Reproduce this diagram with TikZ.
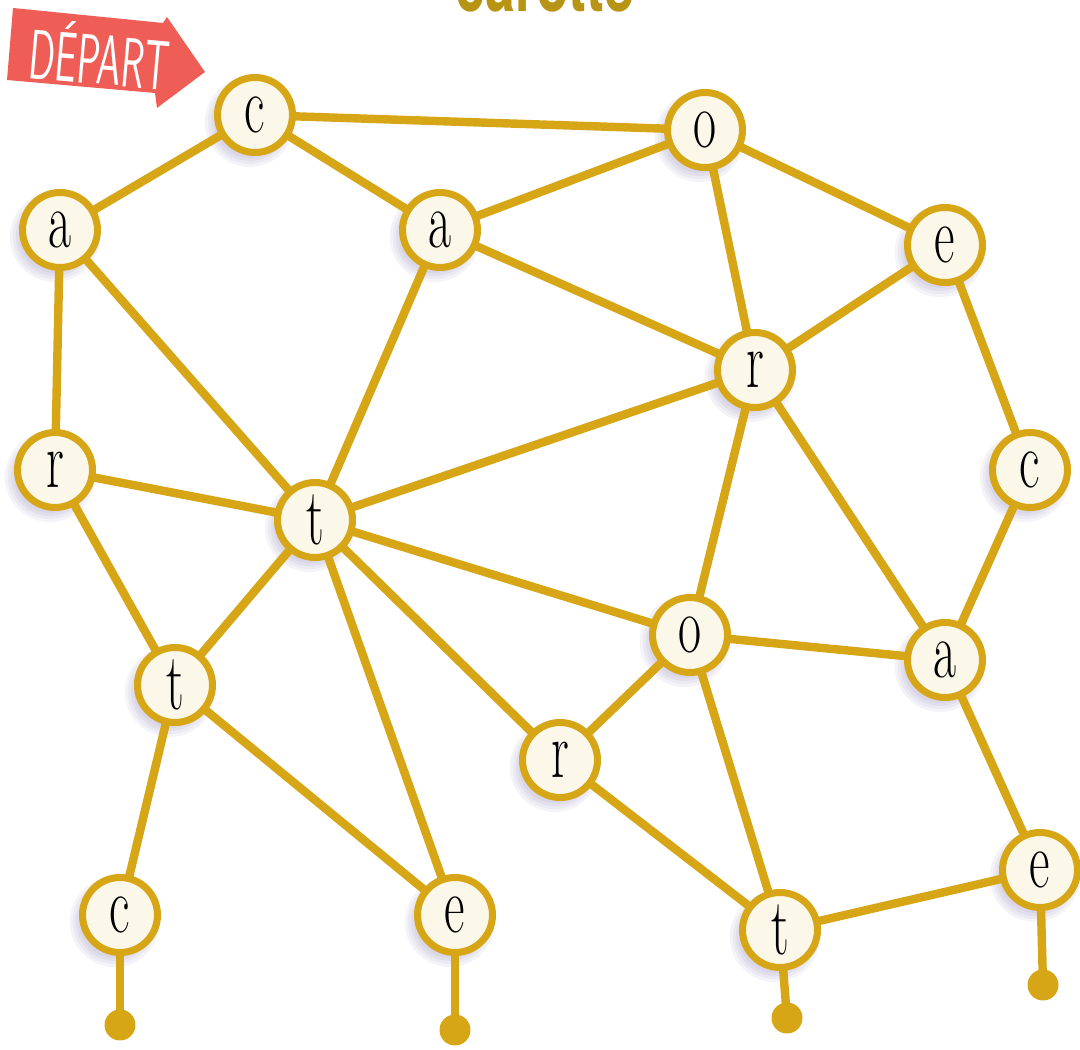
\documentclass[tikz,border=0pt]{standalone}
\usepackage{fontspec}
\usepackage{graphicx}
\newfontfamily\titlefont{TeX Gyre Heros}
\definecolor{gold}{HTML}{D6A617}
\definecolor{cream}{HTML}{FBF8EA}
\definecolor{redarrow}{HTML}{EE5E56}
\definecolor{titlegold}{HTML}{B89415}
\definecolor{shadowc}{HTML}{6A5FA0}
\newcommand{\narrowletter}[1]{\scalebox{0.62}[1]{#1}}
\tikzset{
  letter/.style={circle, draw=gold, line width=4pt, fill=cream, minimum size=1.5cm, inner sep=0pt, font=\fontsize{46}{46}\selectfont},
  edge/.style={draw=gold, line width=4.8pt},
  shade/.style={fill=shadowc, opacity=0.07},
  enddot/.style={circle, fill=gold, minimum size=0.62cm, inner sep=0pt},
}
\begin{document}
\begin{tikzpicture}[x=0.02cm, y=-0.02cm]
\useasboundingbox (0,0) rectangle (1080,1050);
\clip (0,0) rectangle (1080,1050);
% title (cut off at the top edge, as in the reference)
\node[anchor=base, text=titlegold, yscale=1.3, font=\fontsize{36}{36}\titlefont\bfseries] (title) at (545,12) {\scalebox{0.85}[1]{carotte}};
% departure arrow
\fill[redarrow] (13,8) -- (163,23) -- (167,17) -- (205,72) -- (157,108) -- (155,93) -- (7,80) -- cycle;
\node[text=white, rotate=-5, font=\fontsize{40}{40}\selectfont\sffamily] (depart) at (100,54) {\scalebox{0.55}[1]{DÉPART}};
% coordinates
\foreach \n/\x/\y in {c1/255/115, o1/705/130, a1/60/230, a2/440/230, e1/945/245, r1/755/370,
  r2/55/470, c2/1030/470, t1/315/520, o2/690/635, a3/945/660, t2/175/685, r3/560/760,
  e2/1040/870, c3/120/915, e3/455/915, t3/780/930}{
  \coordinate (p\n) at (\x,\y);
}
% soft shadows (lower left)
\foreach \n in {c1,o1,a1,a2,e1,r1,r2,c2,t1,o2,a3,t2,r3,e2,c3,e3,t3}{
  \foreach \r in {0.72,0.78,0.84,0.90}{
    \fill[shade] ([xshift=-3pt,yshift=-4pt]p\n) circle (\r cm);
  }
}
% end dots
\node[enddot] (d1) at (120,1025) {};
\node[enddot] (d2) at (455,1030) {};
\node[enddot] (d3) at (787,1018) {};
\node[enddot] (d4) at (1043,985) {};
% edges
\foreach \a/\b in {c1/o1, c1/a1, c1/a2, a2/o1, o1/e1, o1/r1, a1/r2, a1/t1, a2/t1, a2/r1,
  e1/r1, e1/c2, r1/t1, r1/o2, r1/a3, r2/t1, r2/t2, t1/t2, t1/o2, t1/r3, t1/e3,
  c2/a3, o2/a3, o2/r3, o2/t3, a3/e2, t2/c3, t2/e3, r3/t3, t3/e2}{
  \draw[edge] (p\a) -- (p\b);
}
\draw[edge] (pc3) -- (d1.center);
\draw[edge] (pe3) -- (d2.center);
\draw[edge] (pt3) -- (d3.center);
\draw[edge] (pe2) -- (d4.center);
% nodes
\foreach \n/\l in {c1/c, o1/o, a1/a, a2/a, e1/e, r1/r, r2/r, c2/c, t1/t, o2/o, a3/a, t2/t, r3/r, e2/e, c3/c, e3/e, t3/t}{
  \node[letter] (\n) at (p\n) {\narrowletter{\l}};
}
\end{tikzpicture}
\end{document}
